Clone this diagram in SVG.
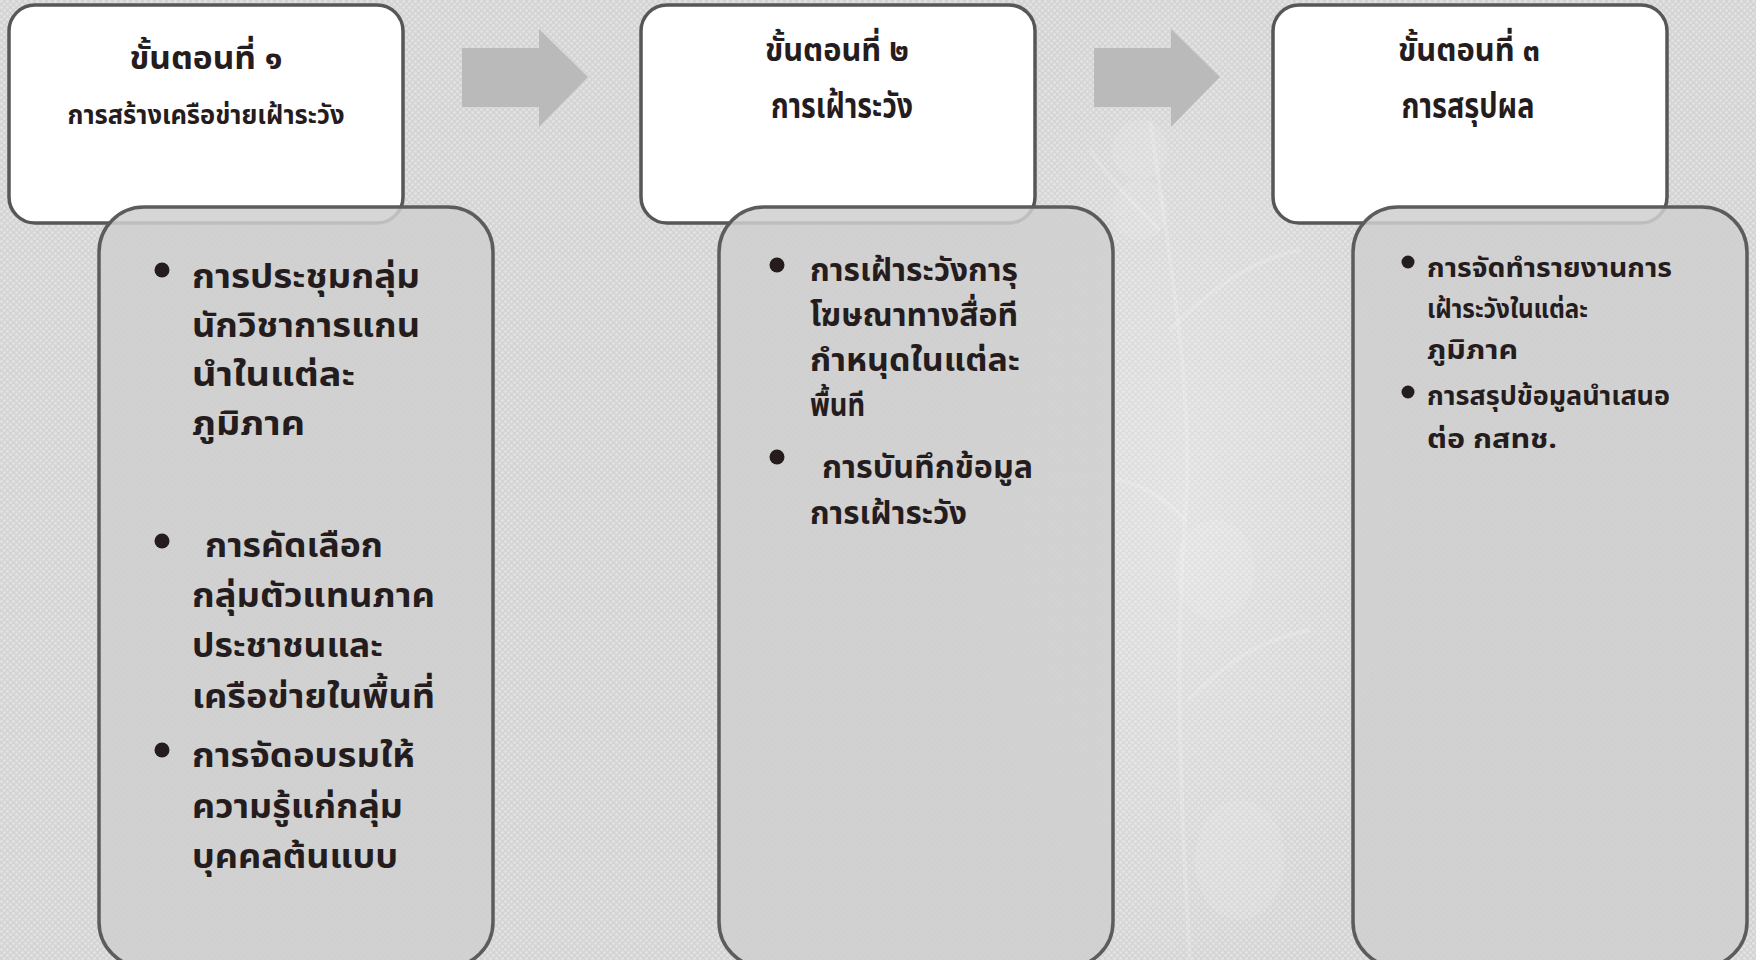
<svg xmlns="http://www.w3.org/2000/svg" width="1756" height="960" viewBox="0 0 1756 960">
  <defs>
    <pattern id="tex" width="6" height="6" patternUnits="userSpaceOnUse">
      <rect width="6" height="6" fill="#d4d4d4"/>
      <circle cx="1.5" cy="1.5" r="1.4" fill="#e3e3e3"/>
      <circle cx="4.5" cy="4.5" r="1.4" fill="#e3e3e3"/>
    </pattern>
    <radialGradient id="glow" cx="0.5" cy="0.5" r="0.5">
      <stop offset="0" stop-color="#ffffff" stop-opacity="0.3"/>
      <stop offset="1" stop-color="#ffffff" stop-opacity="0"/>
    </radialGradient>
    <style>
      .head { fill: #ffffff; stroke: #575757; stroke-width: 3.5; }
      .panel { fill: #cfcfcf; fill-opacity: 0.86; stroke: #5c5c5c; stroke-width: 3.5; }
      .t { font-family: 'Noto Sans Thai', 'Noto Sans', 'DejaVu Sans', sans-serif; font-weight: bold; fill: #251c1e; }
      .title { font-size: 32px; text-anchor: middle; }
      .b1 { font-size: 34px; }
      .b2 { font-size: 31px; }
      .b3 { font-size: 27px; }
      .dot { fill: #251c1e; }
      .arrow { fill: #bababa; }
      .plant { fill: none; stroke: #ffffff; stroke-opacity: 0.16; stroke-width: 4; }
      .leaf { fill: #ffffff; fill-opacity: 0.1; }
    </style>
  </defs>

  <rect width="1756" height="960" fill="url(#tex)"/>
  <ellipse cx="1180" cy="500" rx="260" ry="520" fill="url(#glow)"/>
  <g id="background-plant">
    <path class="plant" d="M1190 960 C1180 800 1175 650 1185 520 C1195 400 1170 260 1150 120"/>
    <path class="plant" d="M1185 520 C1150 480 1100 470 1060 480"/>
    <path class="plant" d="M1170 330 C1210 290 1250 260 1300 250"/>
    <path class="plant" d="M1160 230 C1130 200 1110 180 1090 150"/>
    <path class="plant" d="M1188 700 C1230 660 1260 640 1310 630"/>
    <ellipse class="leaf" cx="1215" cy="570" rx="40" ry="50"/>
    <ellipse class="leaf" cx="1140" cy="150" rx="28" ry="30"/>
    <ellipse class="leaf" cx="1140" cy="210" rx="28" ry="30"/>
    <ellipse class="leaf" cx="1240" cy="860" rx="45" ry="60"/>
  </g>

  <g id="connectors">
    <polygon class="arrow" points="462,48 539,48 539,29 588,77 539,127 539,107 462,107"/>
    <polygon class="arrow" points="1094,48 1171,48 1171,29 1220,77 1171,127 1171,107 1094,107"/>
  </g>

  <g id="step1">
    <rect class="head" x="9" y="5" width="394" height="218" rx="26"/>
    <text class="t title" x="206" y="69" textLength="153" lengthAdjust="spacingAndGlyphs">ขั้นตอนที่ ๑</text>
    <text class="t title" x="206" y="124" textLength="277" lengthAdjust="spacingAndGlyphs" style="font-size:27px">การสร้างเครือข่ายเฝ้าระวัง</text>
  </g>
  <g id="step2">
    <rect class="head" x="641" y="5" width="394" height="218" rx="26"/>
    <text class="t title" x="837" y="61" textLength="144" lengthAdjust="spacingAndGlyphs">ขั้นตอนที่ ๒</text>
    <text class="t title" x="842" y="118" textLength="142" lengthAdjust="spacingAndGlyphs" style="font-size:36px">การเฝ้าระวัง</text>
  </g>
  <g id="step3">
    <rect class="head" x="1273" y="5" width="394" height="218" rx="26"/>
    <text class="t title" x="1469" y="61" textLength="142" lengthAdjust="spacingAndGlyphs">ขั้นตอนที่ ๓</text>
    <text class="t title" x="1468" y="118" textLength="133" lengthAdjust="spacingAndGlyphs" style="font-size:36px">การสรุปผล</text>
  </g>

  <g id="detail1">
    <rect class="panel" x="99" y="207" width="394" height="760" rx="45"/>
    <circle class="dot" cx="162" cy="270" r="7.5"/>
    <circle class="dot" cx="162" cy="541" r="7.5"/>
    <circle class="dot" cx="162" cy="750" r="7.5"/>
    <text class="t b1" x="192" y="288" textLength="228" lengthAdjust="spacingAndGlyphs">การประชุมกลุ่ม</text>
    <text class="t b1" x="192" y="337" textLength="228" lengthAdjust="spacingAndGlyphs">นักวิชาการแกน</text>
    <text class="t b1" x="192" y="386" textLength="163" lengthAdjust="spacingAndGlyphs">นำในแต่ละ</text>
    <text class="t b1" x="192" y="435" textLength="113" lengthAdjust="spacingAndGlyphs">ภูมิภาค</text>
    <text class="t b1" x="205" y="557" textLength="178" lengthAdjust="spacingAndGlyphs">การคัดเลือก</text>
    <text class="t b1" x="192" y="607" textLength="243" lengthAdjust="spacingAndGlyphs">กลุ่มตัวแทนภาค</text>
    <text class="t b1" x="192" y="657" textLength="191" lengthAdjust="spacingAndGlyphs">ประชาชนและ</text>
    <text class="t b1" x="192" y="708" textLength="243" lengthAdjust="spacingAndGlyphs">เครือข่ายในพื้นที่</text>
    <text class="t b1" x="192" y="767" textLength="223" lengthAdjust="spacingAndGlyphs">การจัดอบรมให้</text>
    <text class="t b1" x="192" y="818" textLength="211" lengthAdjust="spacingAndGlyphs">ความรู้แก่กลุ่ม</text>
    <text class="t b1" x="192" y="868" textLength="206" lengthAdjust="spacingAndGlyphs">บุคคลต้นแบบ</text>
  </g>

  <g id="detail2">
    <rect class="panel" x="719" y="207" width="394" height="760" rx="45"/>
    <circle class="dot" cx="777" cy="265" r="7.5"/>
    <circle class="dot" cx="777" cy="457" r="7.5"/>
    <text class="t b2" x="810" y="281" textLength="208" lengthAdjust="spacingAndGlyphs">การเฝ้าระวังการุ</text>
    <text class="t b2" x="810" y="326" textLength="208" lengthAdjust="spacingAndGlyphs">โฆษณาทางสื่อที</text>
    <text class="t b2" x="810" y="371" textLength="210" lengthAdjust="spacingAndGlyphs">กำหนุดในแต่ละ</text>
    <text class="t b2" x="810" y="416" textLength="55" lengthAdjust="spacingAndGlyphs">พื้นที</text>
    <text class="t b2" x="822" y="478" textLength="211" lengthAdjust="spacingAndGlyphs">การบันทึกข้อมูล</text>
    <text class="t b2" x="810" y="524" textLength="157" lengthAdjust="spacingAndGlyphs">การเฝ้าระวัง</text>
  </g>

  <g id="detail3">
    <rect class="panel" x="1353" y="207" width="394" height="760" rx="45"/>
    <circle class="dot" cx="1408" cy="262" r="6.5"/>
    <circle class="dot" cx="1408" cy="392" r="6.5"/>
    <text class="t b3" x="1427" y="277" textLength="245" lengthAdjust="spacingAndGlyphs">การจัดทำรายงานการ</text>
    <text class="t b3" x="1427" y="318" textLength="161" lengthAdjust="spacingAndGlyphs">เฝ้าระวังในแต่ละ</text>
    <text class="t b3" x="1427" y="359" textLength="91" lengthAdjust="spacingAndGlyphs">ภูมิภาค</text>
    <text class="t b3" x="1427" y="405" textLength="243" lengthAdjust="spacingAndGlyphs">การสรุปข้อมูลนำเสนอ</text>
    <text class="t b3" x="1427" y="448" textLength="130" lengthAdjust="spacingAndGlyphs">ต่อ กสทช.</text>
  </g>
</svg>
